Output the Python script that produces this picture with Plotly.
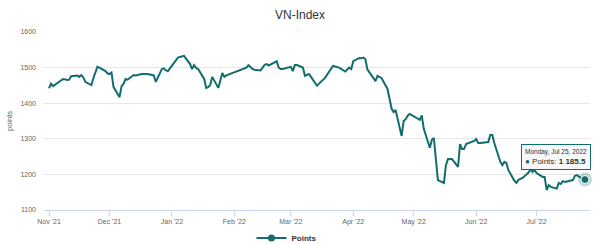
import pandas as pd
import plotly.graph_objects as go

# ---- data ----
start_date = "2021-11-01"
end_date = "2022-07-25"
holidays = ["2022-01-03", "2022-01-31", "2022-02-01", "2022-02-02", "2022-02-03",
            "2022-02-04", "2022-04-11", "2022-05-02", "2022-05-03"]

nov = [1442, 1455, 1448, 1452, 1456, 1468, 1467, 1465, 1466, 1476, 1478, 1474, 1479,
       1473, 1460, 1451, 1470, 1486, 1502, 1500, 1490, 1484]
dec = [1482, 1486, 1446, 1417, 1448, 1455, 1468, 1466, 1479, 1478, 1479, 1479, 1482,
       1482, 1481, 1481, 1478, 1460, 1496, 1498, 1492, 1490, 1498]
jan = [1528, 1530, 1531, 1533, 1510, 1496, 1507, 1499, 1496, 1468, 1443, 1445, 1451,
       1474, 1443, 1468, 1485, 1474, 1478]
feb = [1500, 1507, 1502, 1496, 1494, 1492, 1500, 1508, 1510, 1506, 1515, 1518, 1500,
       1496, 1496, 1500]
mar = [1502, 1490, 1507, 1507, 1500, 1477, 1480, 1482, 1474, 1449, 1455, 1460, 1466,
       1471, 1497, 1505, 1503, 1501, 1500, 1489, 1494, 1500, 1496]
apr = [1518, 1527, 1526, 1528, 1524, 1495, 1462, 1477, 1474, 1471, 1440, 1410, 1385,
       1375, 1381, 1308, 1350, 1355, 1365, 1370]
may = [1353, 1366, 1328, 1275, 1297, 1302, 1245, 1184, 1176, 1226, 1243, 1243, 1243,
       1221, 1285, 1271, 1271, 1285, 1292, 1294]
jun = [1299, 1288, 1288, 1289, 1291, 1311, 1311, 1288, 1235, 1226, 1235, 1232, 1212,
       1182, 1176, 1185, 1187, 1190, 1205, 1215, 1207, 1212]
jul = [1204, 1193, 1193, 1156, 1170, 1165, 1160, 1176, 1173, 1181, 1179, 1182, 1184,
       1196, 1198, 1194, 1185.5]

tick_dates = ["2021-11-01", "2021-12-01", "2022-01-01", "2022-02-01", "2022-03-01",
              "2022-04-01", "2022-05-01", "2022-06-01", "2022-07-01"]
tick_labels = ["Nov '21", "Dec '21", "Jan '22", "Feb '22", "Mar '22", "Apr '22",
               "May '22", "Jun '22", "Jul '22"]
y_ticks = [1100, 1200, 1300, 1400, 1500, 1600]

series_name = "Points"
title_text = "VN-Index"
y_title = "points"

# ---- build ----
values = nov + dec + jan + feb + mar + apr + may + jun + jul
dates = [d for d in pd.bdate_range(start_date, end_date)
         if d.strftime("%Y-%m-%d") not in holidays]
assert len(dates) == len(values), (len(dates), len(values))

LINE = "#116d6e"
FONT = "Liberation Sans, Arial, sans-serif"

fig = go.Figure()
fig.add_trace(go.Scatter(x=dates, y=values, mode="lines",
                         line=dict(color=LINE, width=2), showlegend=False,
                         hoverinfo="skip"))
# legend entry
fig.add_trace(go.Scatter(x=[None], y=[None], mode="lines+markers", name="<b>" + series_name + "</b>",
                         line=dict(color=LINE, width=2),
                         marker=dict(color=LINE, size=7, symbol="circle")))
# highlighted last point (halo + dot)
fig.add_trace(go.Scatter(x=[dates[-1]], y=[values[-1]], mode="markers", showlegend=False,
                         marker=dict(color="rgba(17,109,110,0.25)", size=14),
                         cliponaxis=False, hoverinfo="skip"))
fig.add_trace(go.Scatter(x=[dates[-1]], y=[values[-1]], mode="markers", showlegend=False,
                         marker=dict(color=LINE, size=8, line=dict(color="white", width=1)),
                         cliponaxis=False, hoverinfo="skip"))

last_val = values[-1]
val_txt = f"{int(last_val):,}".replace(",", " ") + f"{last_val - int(last_val):.1f}"[1:]
tooltip = (f"<span style='font-size:6.5px;color:#333'>{dates[-1].strftime('%A, %b %d, %Y')}</span><br>"
           f"<span style='color:{LINE}'>●</span> {series_name}: <b>{val_txt}</b>")
fig.add_annotation(x=dates[-1], y=values[-1], xref="x", yref="y", showarrow=False,
                   xanchor="right", yanchor="bottom", xshift=6, yshift=10,
                   text=tooltip, align="left",
                   font=dict(size=8, color="#333", family=FONT),
                   bgcolor="rgba(247,247,247,0.9)", bordercolor=LINE, borderwidth=1,
                   borderpad=3)

fig.update_layout(
    width=600, height=245,
    margin=dict(l=44, r=10, t=32, b=35, autoexpand=False),
    paper_bgcolor="white", plot_bgcolor="white",
    font=dict(family=FONT, color="#666"),
    title=dict(text=title_text, x=0.5, xanchor="center", y=0.94, yanchor="middle",
               font=dict(size=12, color="#333", family=FONT)),
    showlegend=True,
    legend=dict(orientation="h", x=0.38, xanchor="left", y=7 / 245, yanchor="middle",
                yref="container",
                font=dict(size=8, color="#333", family=FONT), itemwidth=30),
    hovermode=False,
)
fig.update_xaxes(type="date", range=["2021-10-29 12:00", "2022-07-27 12:00"],
                 tickvals=tick_dates, ticktext=tick_labels,
                 showgrid=False, showline=True, linecolor="#ccd6eb", linewidth=1,
                 ticks="outside", ticklen=5, tickcolor="#ccd6eb",
                 tickfont=dict(size=7, color="#666"), zeroline=False)
fig.update_yaxes(range=[1100, 1600], tickvals=y_ticks,
                 showgrid=True, gridcolor="#e6e6e6", gridwidth=1, zeroline=False,
                 showline=False, ticks="", ticklabelstandoff=7,
                 tickfont=dict(size=7, color="#666"),
                 title=dict(text=y_title, font=dict(size=7.5, color="#666"), standoff=6))

fig.write_html("out.html")
